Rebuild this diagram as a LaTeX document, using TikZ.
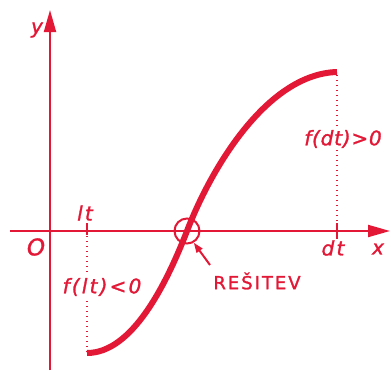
\documentclass[tikz,border=0pt]{standalone}
\usepackage{fontspec}
\setmainfont[LetterSpace=11,FakeBold=1.4]{DejaVu Sans}
\usetikzlibrary{arrows.meta}
\definecolor{ink}{RGB}{226,24,54}
\begin{document}
\begin{tikzpicture}[x=0.5pt,y=-0.5pt,
  axis/.style={ink,line width=1pt},
  curvestyle/.style={ink,line width=3pt},
  dotline/.style={ink,line width=0.7pt,dash pattern=on 0.7pt off 1.8pt},
  lbl/.style={text=ink,inner sep=1pt,font=\fontsize{10}{12}\selectfont\itshape},
  big/.style={-{Triangle[length=11pt,width=6pt]}}]
\useasboundingbox (0,0) rectangle (391,370);
% axes
\coordinate (ybot) at (50,370);
\coordinate (ytop) at (50,10);
\coordinate (xl) at (10,231);
\coordinate (xr) at (390,231);
\draw[axis,big] (ybot) -- (ytop);
\draw[axis,big] (xl) -- (xr);
% ticks
\coordinate (lt) at (87,231);
\coordinate (dt) at (337,231);
\draw[axis] ([yshift=4pt]lt) -- ([yshift=-2pt]lt);
\draw[axis] ([yshift=4pt]dt) -- ([yshift=-4pt]dt);
% curve
\coordinate (c0) at (87,353);
\coordinate (cz) at (187,231);
\coordinate (c1) at (337,72);
\draw[dotline] (lt) -- (c0);
\draw[dotline] (dt) -- (c1);
\draw[curvestyle,line cap=butt] (c0) .. controls (132,353) and (166,285) .. (cz)
  .. controls (212,166) and (268,74) .. (c1);
% circle
\node[draw=ink,line width=1pt,circle,minimum size=12.5pt,inner sep=0pt] (sol) at (cz) {};
% labels
\node[lbl] (ylab) at (37,30) {y};
\node[lbl] (xlab) at (378,249) {x};
\node[lbl,font=\fontsize{11.5}{13}\selectfont\itshape] (olab) at (36,247) {O};
\node[lbl] (ltlab) at (85,213) {lt};
\node[lbl] (dtlab) at (333,248) {dt};
\node[lbl,fill=white] (flt) at (102,287) {f(lt)<0};
\node[lbl,fill=white,font=\fontsize{10}{12}\selectfont\itshape\addfontfeature{LetterSpace=4}] (fdt) at (343,139) {f(dt)>0};
\node[text=ink,inner sep=1pt,font=\fontsize{9}{11}\selectfont] (res) at (257,281) {REŠITEV};
\coordinate (atail) at (210,265);
\draw[ink,line width=1pt,-{Triangle[length=5pt,width=3.5pt]}] (atail) -- (sol.-60);
\end{tikzpicture}
\end{document}
